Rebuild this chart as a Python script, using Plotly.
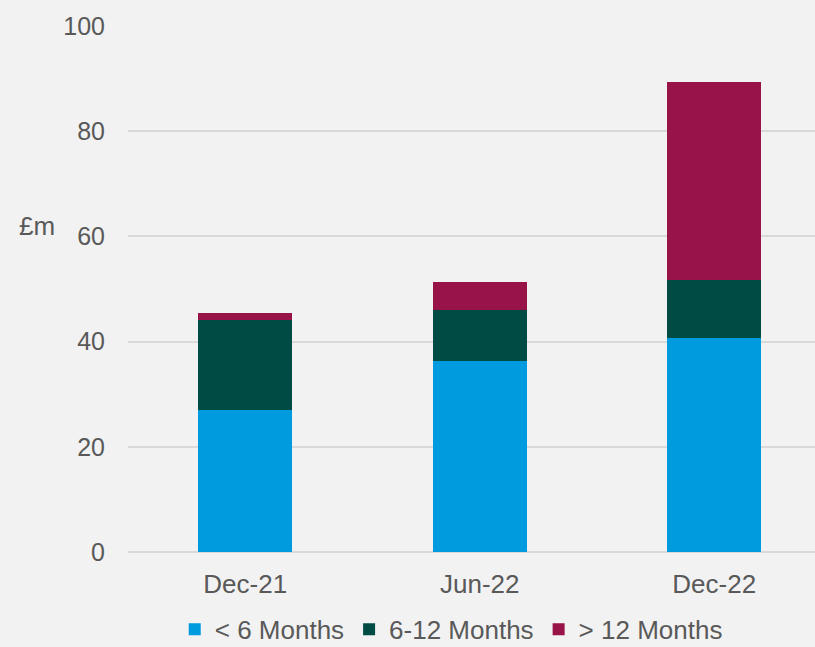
import plotly.graph_objects as go

# Data (£m)
periods = ["Dec-21", "Jun-22", "Dec-22"]
under_6 = [27.0, 36.4, 40.7]
six_to_12 = [17.2, 9.7, 11.1]
over_12 = [1.3, 5.2, 37.6]

series = [
    ("< 6 Months", under_6, "#009ADE"),
    ("6-12 Months", six_to_12, "#004C45"),
    ("> 12 Months", over_12, "#981348"),
]

fig = go.Figure()
for name, vals, colour in series:
    fig.add_trace(go.Bar(x=periods, y=vals, name=name, marker_color=colour,
                         marker_line_width=0))

fig.update_layout(
    width=815, height=647,
    barmode="stack", bargap=0.6,
    paper_bgcolor="#f2f2f2", plot_bgcolor="#f2f2f2",
    font=dict(family="Liberation Sans, Arial", size=24, color="#595959"),
    margin=dict(l=128, r=0, t=26, b=95, autoexpand=False),
    showlegend=True,
    legend=dict(orientation="h", x=0.4705, xanchor="center", y=-0.147,
                yanchor="middle", font=dict(size=26), traceorder="normal",
                itemwidth=30),
)
fig.update_xaxes(range=[-0.5, 2.43], showgrid=False, showline=False,
                 ticks="", ticklabelstandoff=14, tickfont=dict(size=26))
fig.update_yaxes(range=[0, 100], dtick=20, showgrid=True, gridcolor="#d9d9d9",
                 gridwidth=1.5, zeroline=True, zerolinecolor="#d9d9d9",
                 zerolinewidth=1.5, ticks="", ticklabelstandoff=22,
                 tickfont=dict(size=25))

fig.add_annotation(text="£m", xref="paper", yref="paper", x=-0.1033, y=0.62,
                   xanchor="right", yanchor="middle", showarrow=False,
                   font=dict(size=26, color="#595959"))

# drop the default page margin so the chart fills the window
fig.write_html("out.html", config={"displayModeBar": False},
               post_script="document.body.style.margin='0';"
                           "document.body.style.overflow='hidden';")
